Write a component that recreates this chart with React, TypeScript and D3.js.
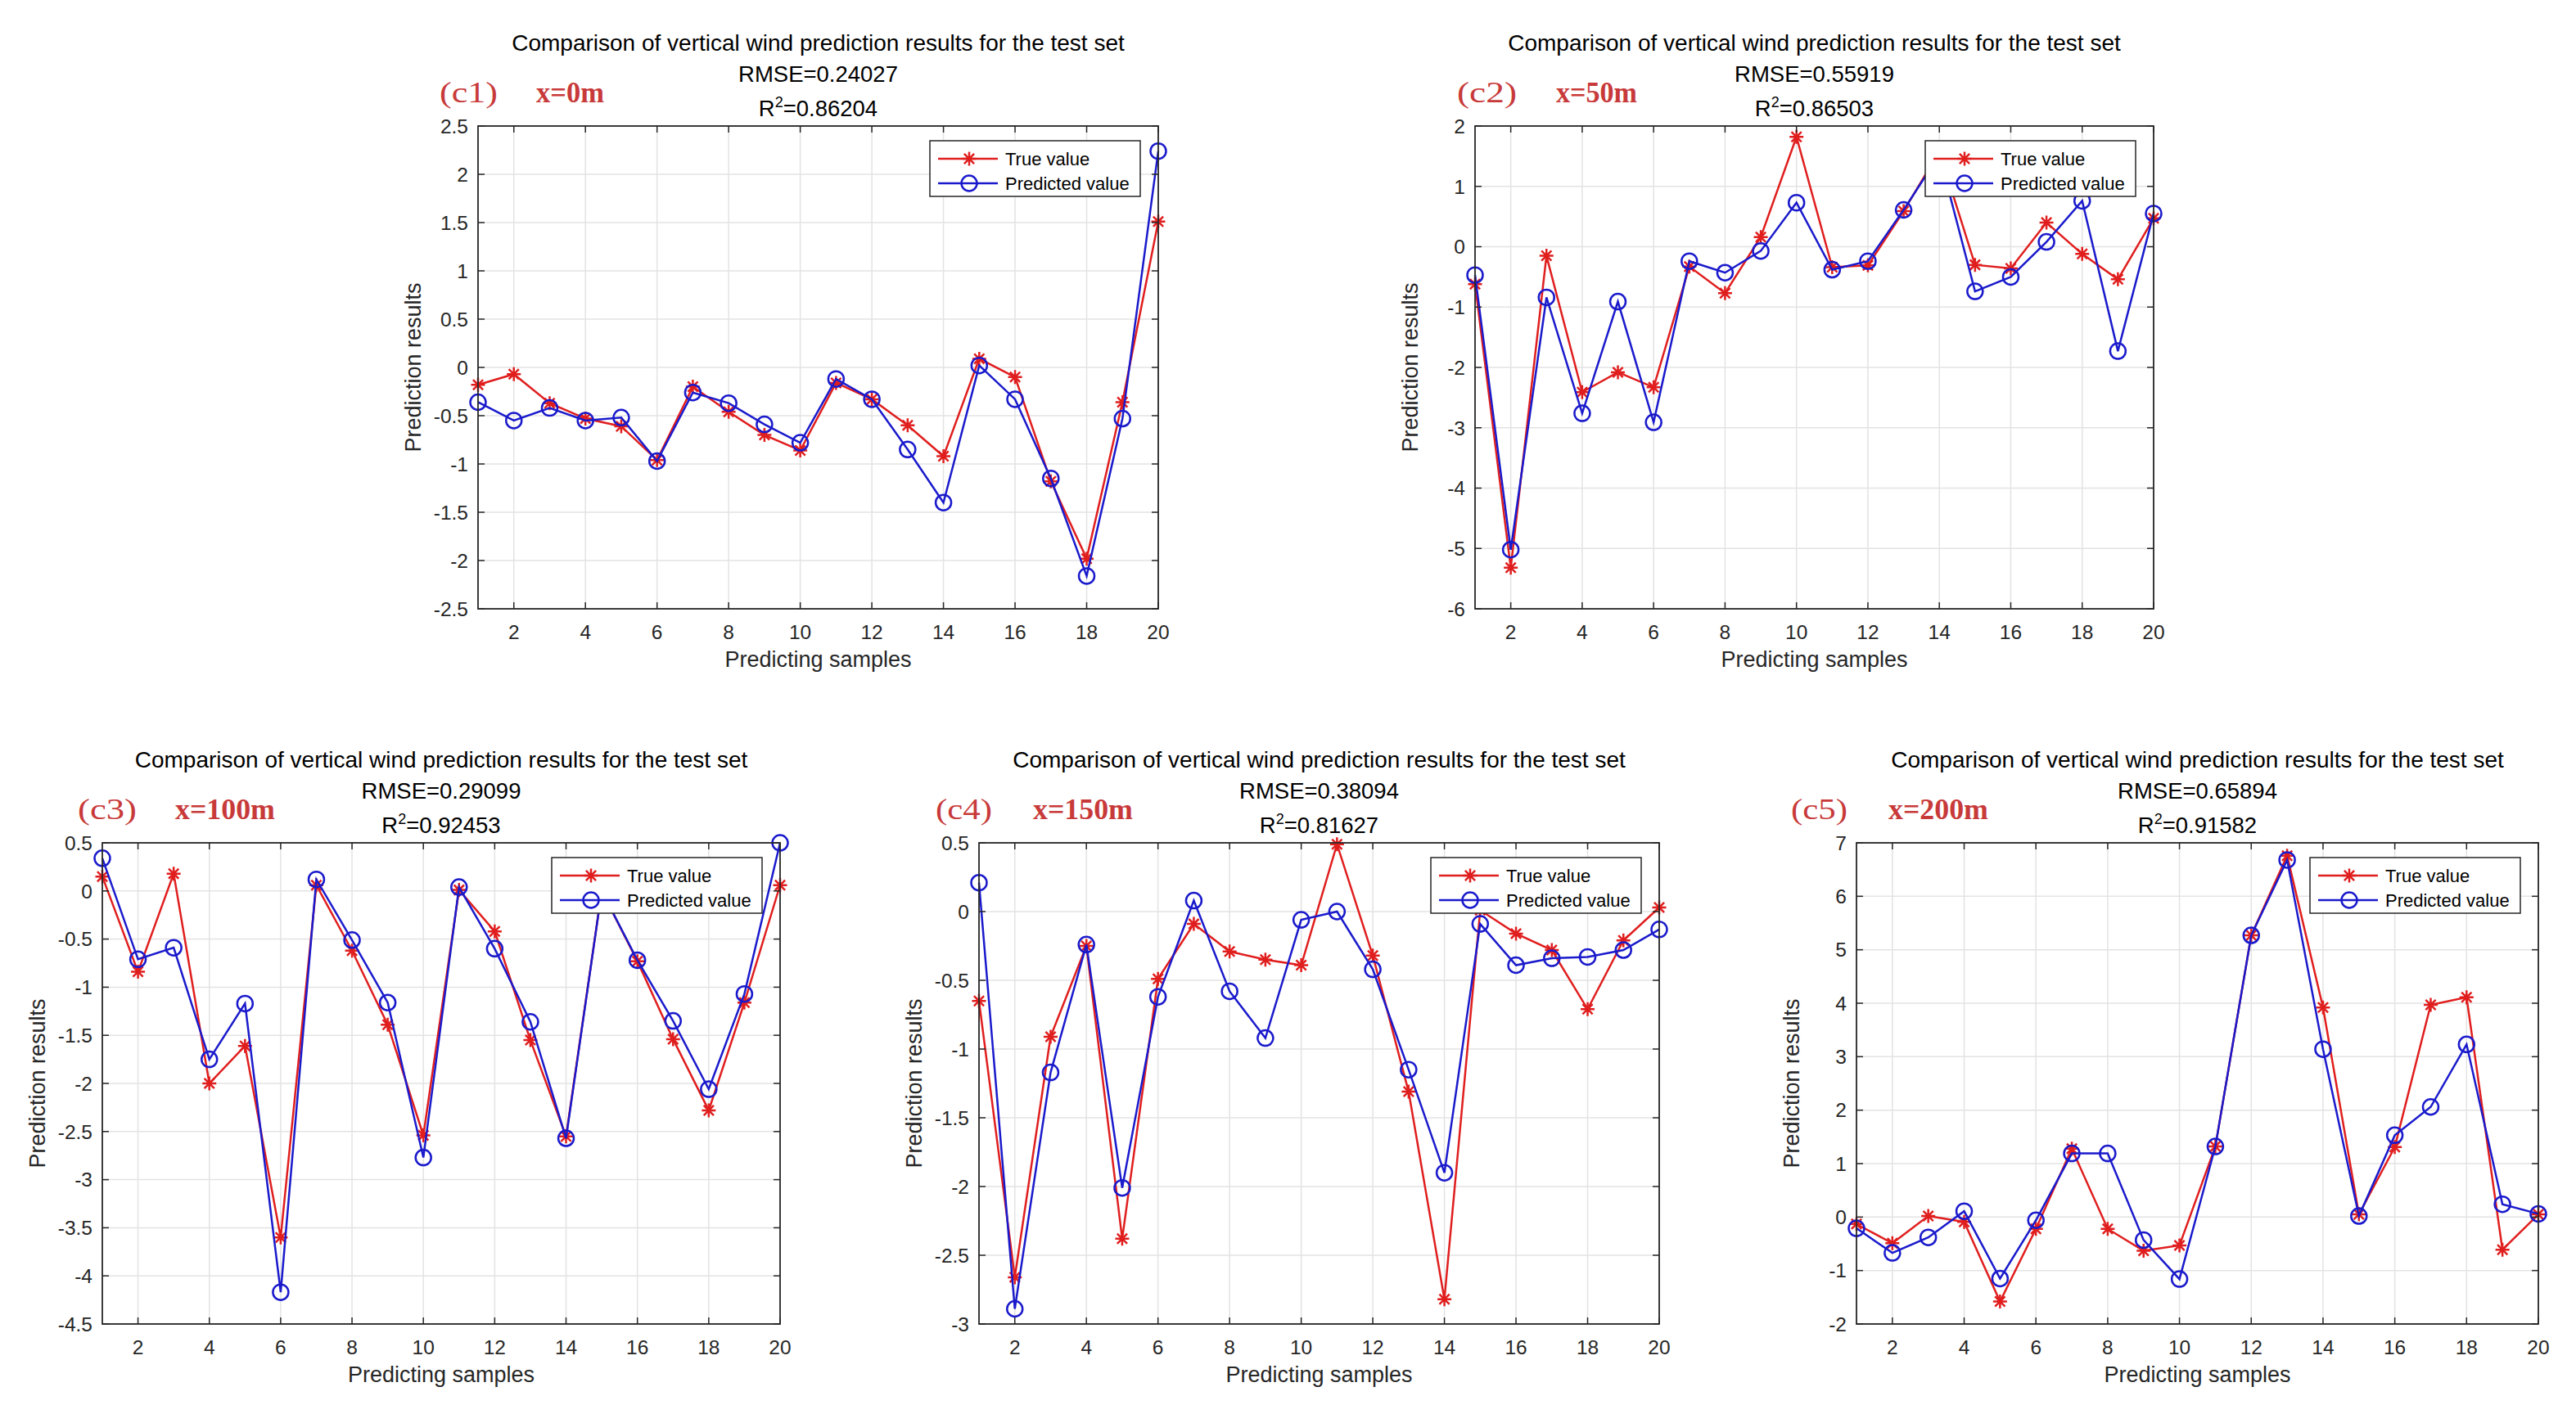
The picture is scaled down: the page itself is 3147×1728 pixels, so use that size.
import React from 'react';
import * as d3 from 'd3';

// ---------- data ----------
const samples = [1, 2, 3, 4, 5, 6, 7, 8, 9, 10, 11, 12, 13, 14, 15, 16, 17, 18, 19, 20];
const xTicks = [2, 4, 6, 8, 10, 12, 14, 16, 18, 20];

const panelTags = ['(c1)', '(c2)', '(c3)', '(c4)', '(c5)'];
const positionTags = ['x=0m', 'x=50m', 'x=100m', 'x=150m', 'x=200m'];
const rmseValues = ['0.24027', '0.55919', '0.29099', '0.38094', '0.65894'];
const r2Values = ['0.86204', '0.86503', '0.92453', '0.81627', '0.91582'];
const seriesNames = ['True value', 'Predicted value'];
const chartTitle = 'Comparison of vertical wind prediction results for the test set';
const xLabel = 'Predicting samples';
const yLabel = 'Prediction results';

const yDomains: [number, number][] = [[-2.5, 2.5], [-6, 2], [-4.5, 0.5], [-3, 0.5], [-2, 7]];
const yTicksC1 = [-2.5, -2, -1.5, -1, -0.5, 0, 0.5, 1, 1.5, 2, 2.5];
const yTicksC2 = [-6, -5, -4, -3, -2, -1, 0, 1, 2];
const yTicksC3 = [-4.5, -4, -3.5, -3, -2.5, -2, -1.5, -1, -0.5, 0, 0.5];
const yTicksC4 = [-3, -2.5, -2, -1.5, -1, -0.5, 0, 0.5];
const yTicksC5 = [-2, -1, 0, 1, 2, 3, 4, 5, 6, 7];
const yTickSets = [yTicksC1, yTicksC2, yTicksC3, yTicksC4, yTicksC5];

const trueC1 = [-0.18, -0.07, -0.37, -0.53, -0.61, -0.96, -0.2, -0.46, -0.7, -0.86, -0.16, -0.33, -0.6, -0.92, 0.09, -0.1, -1.18, -1.98, -0.36, 1.51];
const predC1 = [-0.36, -0.55, -0.42, -0.55, -0.52, -0.97, -0.26, -0.37, -0.59, -0.78, -0.12, -0.33, -0.85, -1.4, 0.02, -0.33, -1.15, -2.16, -0.53, 2.24];

const trueC2 = [-0.62, -5.32, -0.15, -2.41, -2.08, -2.33, -0.33, -0.77, 0.16, 1.82, -0.34, -0.31, 0.59, 1.58, -0.3, -0.36, 0.4, -0.12, -0.54, 0.47];
const predC2 = [-0.47, -5.02, -0.84, -2.76, -0.91, -2.91, -0.24, -0.43, -0.07, 0.73, -0.38, -0.24, 0.61, 1.52, -0.74, -0.5, 0.08, 0.76, -1.73, 0.55];

const trueC3 = [0.15, -0.84, 0.18, -2.0, -1.61, -3.6, 0.06, -0.62, -1.39, -2.54, 0.01, -0.42, -1.55, -2.55, 0.0, -0.73, -1.54, -2.28, -1.16, 0.06];
const predC3 = [0.34, -0.71, -0.59, -1.75, -1.17, -4.17, 0.12, -0.51, -1.16, -2.77, 0.04, -0.6, -1.36, -2.57, 0.0, -0.72, -1.35, -2.06, -1.07, 0.5];

const trueC4 = [-0.65, -2.66, -0.91, -0.25, -2.38, -0.49, -0.09, -0.29, -0.35, -0.39, 0.49, -0.32, -1.31, -2.82, 0.01, -0.16, -0.28, -0.71, -0.21, 0.03];
const predC4 = [0.21, -2.89, -1.17, -0.24, -2.01, -0.62, 0.08, -0.58, -0.92, -0.06, 0.0, -0.42, -1.15, -1.9, -0.09, -0.39, -0.34, -0.33, -0.28, -0.13];

const trueC5 = [-0.13, -0.49, 0.02, -0.09, -1.58, -0.22, 1.28, -0.22, -0.63, -0.53, 1.32, 5.27, 6.76, 3.92, 0.05, 1.31, 3.97, 4.11, -0.61, 0.05];
const predC5 = [-0.21, -0.67, -0.38, 0.11, -1.15, -0.06, 1.19, 1.19, -0.43, -1.16, 1.32, 5.27, 6.68, 3.14, 0.02, 1.53, 2.06, 3.23, 0.24, 0.06];

const trueSeries = [trueC1, trueC2, trueC3, trueC4, trueC5];
const predSeries = [predC1, predC2, predC3, predC4, predC5];

// ---------- layout / style ----------
const W = 3147;
const H = 1728;
const panels = [
  { left: 584, right: 1415, top: 154, bottom: 744, tagX: 537, tagW: 71, posX: 655, posW: 83 },
  { left: 1802, right: 2631, top: 154, bottom: 744, tagX: 1780, tagW: 73, posX: 1901, posW: 99 },
  { left: 125, right: 953, top: 1030, bottom: 1618, tagX: 95, tagW: 72, posX: 214, posW: 122 },
  { left: 1196, right: 2027, top: 1030, bottom: 1618, tagX: 1143, tagW: 69, posX: 1262, posW: 122 },
  { left: 2268, right: 3101, top: 1030, bottom: 1618, tagX: 2188, tagW: 69, posX: 2307, posW: 122 },
];
const RED = '#e01e1e';
const BLUE = '#1a1acc';
const AX = '#262626';
const GRID = '#e3e3e3';
const TAG = '#c83a3a';
const FONT = "'Liberation Sans', Arial, Helvetica, sans-serif";
const SERIF = "'Liberation Serif', 'Times New Roman', serif";

const fmt = (v: number) => String(v);

function starPath(r: number) {
  const d = r * 0.72;
  return `M${-r},0L${r},0M0,${-r}L0,${r}M${-d},${-d}L${d},${d}M${-d},${d}L${d},${-d}`;
}

function Panel({ idx }: { idx: number }) {
  const p = panels[idx];
  const x = d3.scaleLinear().domain([samples[0], samples[samples.length - 1]]).range([p.left, p.right]);
  const y = d3.scaleLinear().domain(yDomains[idx]).range([p.bottom, p.top]);
  const line = d3
    .line<number>()
    .x((_, i) => x(samples[i]))
    .y((d) => y(d));
  const tv = trueSeries[idx];
  const pv = predSeries[idx];
  const yTicks = yTickSets[idx];
  const tickLen = 8;
  const cx = (p.left + p.right) / 2;
  const cy = (p.top + p.bottom) / 2;

  const legW = 257;
  const legH = 68;
  const legX = p.right - 22 - legW;
  const legY = p.top + 18;

  return (
    <g>
      {xTicks.map((t) => (
        <line key={'gx' + t} x1={x(t)} x2={x(t)} y1={p.top} y2={p.bottom} stroke={GRID} strokeWidth={1.5} />
      ))}
      {yTicks.map((t) => (
        <line key={'gy' + t} x1={p.left} x2={p.right} y1={y(t)} y2={y(t)} stroke={GRID} strokeWidth={1.5} />
      ))}
      <path d={line(tv) || ''} fill="none" stroke={RED} strokeWidth={2.5} />
      {tv.map((v, i) => (
        <path key={'s' + i} d={starPath(8.5)} transform={`translate(${x(samples[i])},${y(v)})`} stroke={RED} strokeWidth={2.5} fill="none" />
      ))}
      <path d={line(pv) || ''} fill="none" stroke={BLUE} strokeWidth={2.5} />
      {pv.map((v, i) => (
        <circle key={'c' + i} cx={x(samples[i])} cy={y(v)} r={9.5} stroke={BLUE} strokeWidth={2.5} fill="none" />
      ))}
      <rect x={p.left} y={p.top} width={p.right - p.left} height={p.bottom - p.top} fill="none" stroke={AX} strokeWidth={1.8} />
      {xTicks.map((t) => (
        <g key={'tx' + t}>
          <line x1={x(t)} x2={x(t)} y1={p.bottom} y2={p.bottom - tickLen} stroke={AX} strokeWidth={1.5} />
          <line x1={x(t)} x2={x(t)} y1={p.top} y2={p.top + tickLen} stroke={AX} strokeWidth={1.5} />
          <text x={x(t)} y={p.bottom + 37} textAnchor="middle" fontSize={24.5} fill={AX} fontFamily={FONT}>
            {fmt(t)}
          </text>
        </g>
      ))}
      {yTicks.map((t) => (
        <g key={'ty' + t}>
          <line x1={p.left} x2={p.left + tickLen} y1={y(t)} y2={y(t)} stroke={AX} strokeWidth={1.5} />
          <line x1={p.right} x2={p.right - tickLen} y1={y(t)} y2={y(t)} stroke={AX} strokeWidth={1.5} />
          <text x={p.left - 12} y={y(t)} dy="0.36em" textAnchor="end" fontSize={24.5} fill={AX} fontFamily={FONT}>
            {fmt(t)}
          </text>
        </g>
      ))}
      <text x={cx} y={p.bottom + 71} textAnchor="middle" fontSize={27} fill={AX} fontFamily={FONT}>
        {xLabel}
      </text>
      <text
        transform={`translate(${p.left - 70},${cy}) rotate(-90)`}
        textAnchor="middle"
        fontSize={27}
        fill={AX}
        fontFamily={FONT}
      >
        {yLabel}
      </text>
      <text x={cx} y={p.top - 92} textAnchor="middle" fontSize={28} fill="#000" fontFamily={FONT}>
        {chartTitle}
      </text>
      <text x={cx} y={p.top - 54} textAnchor="middle" fontSize={27.5} fill="#000" fontFamily={FONT}>
        {'RMSE=' + rmseValues[idx]}
      </text>
      <text x={cx} y={p.top - 12} textAnchor="middle" fontSize={27.5} fill="#000" fontFamily={FONT}>
        <tspan>R</tspan>
        <tspan dy={-11} fontSize={18}>2</tspan>
        <tspan dy={11}>{'=' + r2Values[idx]}</tspan>
      </text>
      <text x={p.tagX} y={p.top - 29} fontSize={36} fill={TAG} fontFamily={SERIF} textLength={p.tagW} lengthAdjust="spacingAndGlyphs">
        {panelTags[idx]}
      </text>
      <text x={p.posX} y={p.top - 29} fontSize={36} fill={TAG} fontWeight="bold" fontFamily={SERIF} textLength={p.posW} lengthAdjust="spacingAndGlyphs">
        {positionTags[idx]}
      </text>
      <rect x={legX} y={legY} width={legW} height={legH} fill="#fff" stroke={AX} strokeWidth={1.5} />
      {seriesNames.map((name, i) => {
        const ly = legY + 22 + i * 30;
        const col = i === 0 ? RED : BLUE;
        return (
          <g key={name}>
            <line x1={legX + 10} x2={legX + 83} y1={ly} y2={ly} stroke={col} strokeWidth={2.5} />
            {i === 0 ? (
              <path d={starPath(8.5)} transform={`translate(${legX + 48},${ly})`} stroke={col} strokeWidth={2.5} fill="none" />
            ) : (
              <circle cx={legX + 48} cy={ly} r={9.5} stroke={col} strokeWidth={2.5} fill="none" />
            )}
            <text x={legX + 92} y={ly} dy="0.36em" fontSize={22} fill="#000" fontFamily={FONT}>
              {name}
            </text>
          </g>
        );
      })}
    </g>
  );
}

export default function App() {
  return (
    <svg
      width={W}
      height={H}
      viewBox={`0 0 ${W} ${H}`}
      style={{ position: 'absolute', left: 0, top: 0, background: '#fff', display: 'block' }}
    >
      <rect x={0} y={0} width={W} height={H} fill="#fff" />
      {panels.map((_, i) => (
        <Panel key={i} idx={i} />
      ))}
    </svg>
  );
}
